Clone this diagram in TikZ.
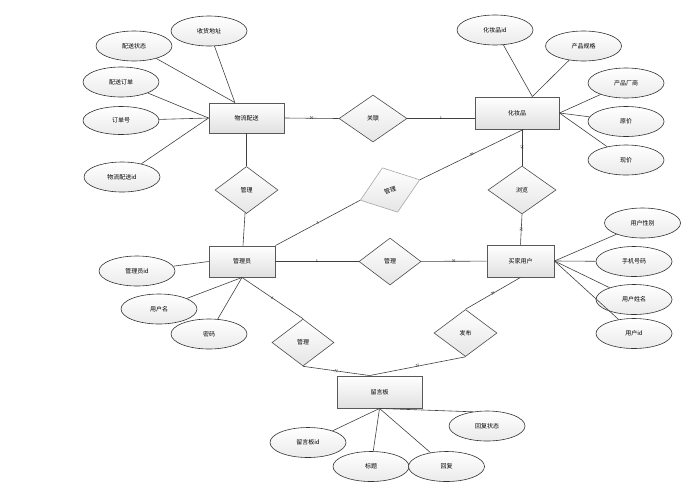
\documentclass[tikz,border=0pt]{standalone}
\usepackage{fontspec}
\newfontfamily\cjk{Noto Sans CJK SC}
\usetikzlibrary{shapes.geometric}

\begin{document}
\begin{tikzpicture}[
    x=1pt, y=-1pt,
    font=\cjk\fontsize{6}{7}\selectfont,
    entity/.style={rectangle, draw=black!65, line width=0.9pt, top color=white, bottom color=black!12, minimum width=76pt, minimum height=30pt, inner sep=0pt},
    relation/.style={diamond, draw=black!70, line width=0.6pt, top color=white, bottom color=black!10, minimum width=63pt, minimum height=47pt, inner sep=0pt},
    attr/.style={ellipse, draw=black!80, line width=0.6pt, top color=white, bottom color=black!8, minimum width=76pt, minimum height=30pt, inner sep=0pt},
    link/.style={draw=black!75, line width=0.6pt},
    card/.style={font=\fontsize{4}{4}\selectfont, inner sep=0.5pt, midway, sloped}
]
\useasboundingbox (0,0) rectangle (700,501);

% entities
\node[entity, minimum width=75pt] (wlps) at (246.5,118) {物流配送};
\node[entity, minimum width=84pt, minimum height=32pt] (hzp) at (517,113) {化妆品};
\node[entity, minimum width=66pt, minimum height=31pt] (gly) at (242,261.5) {管理员};
\node[entity, minimum width=67pt, minimum height=32pt] (mjyh) at (520.5,261) {买家用户};
\node[entity, minimum width=85pt, minimum height=32pt] (lyb) at (379.5,392) {留言板};

% relations
\node[relation, minimum width=68pt] (guanlian) at (373,118.5) {关联};
\node[relation] (glA) at (246.5,190) {管理};
\node[relation, draw=black!35, rotate=19] (glB) at (390,190) {管理};
\node[relation, minimum width=62pt] (glC) at (390,261.5) {管理};
\node[relation, minimum width=68pt, minimum height=48pt] (liulan) at (522,190) {浏览};
\node[relation, minimum width=62pt] (glD) at (303,342.5) {管理};
\node[relation] (fabu) at (465.5,333) {发布};

% attributes
\node[attr] (pszt) at (134,46) {配送状态};
\node[attr] (shdz) at (209,31) {收货地址};
\node[attr] (psdd) at (121,82) {配送订单};
\node[attr, minimum height=28pt] (ddh) at (121,120.5) {订单号};
\node[attr] (wlid) at (122,177) {物流配送id};

\node[attr] (hzid) at (495,30) {化妆品id};
\node[attr] (cpgg) at (583.5,46) {产品规格};
\node[attr] (cpcs) at (626,83) {产品厂商};
\node[attr] (yj) at (626,121.5) {原价};
\node[attr] (xj) at (626,160) {现价};

\node[attr] (glyid) at (137,271) {管理员id};
\node[attr] (yhm) at (159,309) {用户名};
\node[attr] (mm) at (209,334) {密码};

\node[attr] (yhxb) at (642.5,223) {用户性别};
\node[attr] (sjhm) at (634,261.5) {手机号码};
\node[attr] (yhxm) at (634,299.5) {用户姓名};
\node[attr] (yhid) at (634,333.5) {用户id};

\node[attr] (lyid) at (308,442.5) {留言板id};
\node[attr] (bt) at (371,466.5) {标题};
\node[attr] (hf) at (446.5,466.5) {回复};
\node[attr] (hfzt) at (487,426) {回复状态};

% attribute lines
\draw[link] (pszt) -- (wlps.127);
\draw[link] (shdz) -- (wlps.127);
\draw[link] (psdd) -- (wlps.west);
\draw[link] (ddh) -- (wlps.west);
\draw[link] (wlid) -- (wlps.west);

\draw[link] (hzid) -- (hzp.47);
\draw[link] (cpgg) -- (hzp.47);
\draw[link] (cpcs) -- (hzp.east);
\draw[link] (yj) -- (hzp.east);
\draw[link] (xj) -- (hzp.east);

\draw[link] (glyid) -- (gly.west);
\draw[link] (yhm) -- (gly.south);
\draw[link] (mm) -- (gly.south);

\draw[link] (yhxb) -- (mjyh.east);
\draw[link] (sjhm) -- (mjyh.east);
\draw[link] (yhxm) -- (mjyh.east);
\draw[link] (yhid) -- (mjyh.east);

\draw[link] (lyid) -- (lyb.south);
\draw[link] (bt) -- (lyb.south);
\draw[link] (hf) -- (lyb.south);
\draw[link] (lyb.south) -- (hfzt.135);

% relation lines
\draw[link] (wlps.east) -- node[card]{N} (guanlian.west);
\draw[link] (guanlian.east) -- node[card]{1} (guanlian.east -| hzp.west);
\draw[link] (wlps) -- (glA);
\draw[link] (glA) -- (gly);
\draw[link] (gly.north east) -- node[card]{1} (glB.west);
\draw[link] (glB.east) -- node[card]{N} (hzp.291);
\draw[link] (gly) -- node[card]{1} (glC);
\draw[link] (glC) -- node[card]{N} (mjyh);
\draw[link] (liulan.north |- hzp.south) -- node[card]{N} (liulan.north);
\draw[link] (liulan.south) -- node[card]{N} (mjyh.north);
\draw[link] (gly.south) -- node[card]{1} (glD.north);
\draw[link] (glD.south) -- node[card]{N} (lyb.121);
\draw[link] (mjyh.south) -- node[card]{N} (fabu.north);
\draw[link] (fabu.south) -- node[card]{N} (lyb.121);
\end{tikzpicture}
\end{document}
